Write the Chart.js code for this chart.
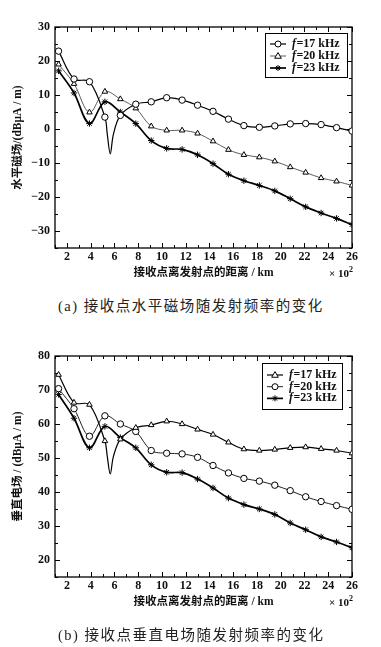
<!DOCTYPE html>
<html>
<head>
<meta charset="utf-8">
<script src="https://cdn.jsdelivr.net/npm/chart.js@4/dist/chart.umd.min.js"></script>
<style>
  body { margin: 0; background: #fff; width: 381px; height: 647px; position: relative; overflow: hidden; }
  canvas { position: absolute; left: 0; }
  .unit { position: absolute; right: 28px; font: bold 11px "Liberation Serif", serif; color: #111; }
  .unit sup { font-size: 8px; }
  .caption { position: absolute; left: 58px; white-space: nowrap; font: 14.5px "Liberation Serif", "Noto Sans CJK SC", serif; letter-spacing: 1.5px; color: #222; line-height: 18px; }
</style>
</head>
<body>
<canvas id="chartA" width="381" height="285" style="top:0"></canvas>
<div class="unit" style="top:265px">× 10<sup>2</sup></div>
<div class="caption" style="top:297px">(a) 接收点水平磁场随发射频率的变化</div>

<canvas id="chartB" width="381" height="285" style="top:329px"></canvas>
<div class="unit" style="top:594px">× 10<sup>2</sup></div>
<div class="caption" style="top:626px">(b) 接收点垂直电场随发射频率的变化</div>

<script>
// distance of receiver from transmitter, x 10^2 km (marker positions)
const distance = [1.3, 2.6, 3.9, 5.2, 6.5, 7.8, 9.1, 10.4, 11.7, 13, 14.3, 15.6, 16.9, 18.2, 19.5, 20.8, 22.1, 23.4, 24.7, 26];
const freqNames = ['=17 kHz', '=20 kHz', '=23 kHz'];

// (a) horizontal magnetic field, dBuA/m
const hField17 = [22.9, 14.7, 13.9, 3.5, 4.0, 7.3, 8.0, 9.2, 8.5, 7.0, 5.2, 2.9, 1.0, 0.5, 0.9, 1.5, 1.6, 1.3, 0.4, -0.6];
const hField20 = [19.0, 13.3, 4.9, 11.0, 8.8, 6.1, 0.8, -0.4, -0.4, -1.3, -3.6, -6.1, -7.6, -8.3, -9.5, -11.2, -12.8, -14.4, -15.4, -16.6];
const hField23 = [17.1, 10.6, 1.6, 8.0, 5.0, 1.6, -3.4, -5.7, -6.0, -7.6, -10.2, -13.3, -15.2, -16.6, -18.2, -20.5, -22.9, -24.7, -26.3, -28.1];
// sharp notch of the 17 kHz curve between markers (no marker there)
const hField17Notch = [[5.4, -1.5], [5.65, -7.3], [5.92, -1.5]];

// (b) vertical electric field, dBuA/m
const eField17 = [74.5, 66.3, 65.7, 55.0, 55.5, 58.9, 59.7, 60.8, 60.0, 58.4, 56.9, 54.6, 52.6, 52.2, 52.5, 53.0, 53.2, 52.7, 52.2, 51.4];
const eField20 = [70.4, 64.5, 56.4, 62.4, 60.0, 57.8, 52.2, 51.4, 51.2, 50.2, 47.8, 45.6, 44.0, 43.2, 42.0, 40.4, 38.6, 37.2, 36.0, 34.9];
const eField23 = [68.7, 61.7, 53.0, 59.3, 56.0, 53.0, 48.0, 45.8, 45.7, 43.8, 41.2, 38.2, 36.3, 35.0, 33.4, 30.9, 28.9, 26.8, 25.3, 23.6];
const eField17Notch = [[5.4, 50.5], [5.65, 45.3], [5.92, 50.5]];

const serif = '"Liberation Serif", "Noto Sans CJK SC", serif';

function series(values, extra) {
  const pts = distance.map((d, i) => ({x: d, y: values[i], mark: true}));
  (extra || []).forEach(p => pts.push({x: p[0], y: p[1], mark: false}));
  return pts.sort((a, b) => a.x - b.x);
}

function line(name, pts, style, width, color) {
  return {
    label: name,
    data: pts,
    pointStyle: style,
    borderColor: color,
    borderWidth: width,
    pointBorderColor: '#000',
    pointBackgroundColor: '#fff',
    pointBorderWidth: 1,
    pointRadius: c => (c.raw && c.raw.mark ? 3.2 : 0),
    tension: 0.35,
    fill: false
  };
}

function drawMark(ctx, style, x, y, r) {
  ctx.beginPath();
  if (style === 'circle') {
    ctx.arc(x, y, r, 0, Math.PI * 2);
    ctx.fill(); ctx.stroke();
  } else if (style === 'triangle') {
    ctx.moveTo(x, y - r * 1.15);
    ctx.lineTo(x + r * 1.1, y + r * 0.75);
    ctx.lineTo(x - r * 1.1, y + r * 0.75);
    ctx.closePath();
    ctx.fill(); ctx.stroke();
  } else {
    for (let k = 0; k < 4; k++) {
      const a = k * Math.PI / 4;
      ctx.moveTo(x - r * Math.cos(a), y - r * Math.sin(a));
      ctx.lineTo(x + r * Math.cos(a), y + r * Math.sin(a));
    }
    ctx.stroke();
  }
}

// plot frame with inward ticks on all four sides
const frameTicks = {
  id: 'frameTicks',
  beforeDatasetsDraw(chart) {
    const {ctx, chartArea: a, scales: {x, y}} = chart;
    ctx.save();
    ctx.strokeStyle = '#000';
    ctx.lineWidth = 1.3;
    ctx.strokeRect(a.left, a.top, a.right - a.left, a.bottom - a.top);
    ctx.lineWidth = 1;
    ctx.beginPath();
    for (let v = Math.ceil(x.min); v <= x.max; v++) {
      const px = Math.round(x.getPixelForValue(v)) + 0.5;
      const len = v % 2 === 0 ? 5 : 3;
      ctx.moveTo(px, a.bottom); ctx.lineTo(px, a.bottom - len);
      ctx.moveTo(px, a.top); ctx.lineTo(px, a.top + len);
    }
    for (let v = Math.ceil(y.min / 5) * 5; v <= y.max; v += 5) {
      const py = Math.round(y.getPixelForValue(v)) + 0.5;
      const len = v % 10 === 0 ? 5 : 3;
      ctx.moveTo(a.left, py); ctx.lineTo(a.left + len, py);
      ctx.moveTo(a.right, py); ctx.lineTo(a.right - len, py);
    }
    ctx.stroke();
    ctx.restore();
  }
};

// boxed legend inside the plot, italic f
const boxLegend = {
  id: 'boxLegend',
  afterDraw(chart, args, o) {
    const {ctx} = chart;
    ctx.save();
    ctx.fillStyle = '#fff';
    ctx.strokeStyle = '#000';
    ctx.lineWidth = 1;
    ctx.fillRect(o.left, o.top, o.width, o.height);
    ctx.strokeRect(o.left + 0.5, o.top + 0.5, o.width, o.height);
    chart.data.datasets.forEach((ds, i) => {
      const cy = o.top + o.firstRow + i * o.rowGap;
      const x0 = o.left + 5, x1 = x0 + 16;
      ctx.strokeStyle = ds.borderColor;
      ctx.lineWidth = ds.borderWidth;
      ctx.beginPath(); ctx.moveTo(x0, cy); ctx.lineTo(x1, cy); ctx.stroke();
      ctx.strokeStyle = '#000';
      ctx.fillStyle = '#fff';
      ctx.lineWidth = 1;
      drawMark(ctx, ds.pointStyle, (x0 + x1) / 2, cy, 3);
      ctx.fillStyle = '#111';
      ctx.textBaseline = 'middle';
      ctx.font = 'bold italic 12px ' + serif;
      ctx.fillText('f', x1 + 6, cy);
      const w = ctx.measureText('f').width;
      ctx.font = 'bold 12px ' + serif;
      ctx.fillText(ds.label, x1 + 6 + w + 0.5, cy);
    });
    ctx.restore();
  }
};

function options(yMin, yMax, yTitle, legendBox) {
  const tickFont = {family: serif, weight: 'bold', size: 12};
  return {
    responsive: false,
    animation: false,
    layout: {padding: {top: 27, right: 29, left: 0, bottom: 0}},
    plugins: {legend: {display: false}, tooltip: {enabled: false}, boxLegend: legendBox},
    scales: {
      x: {
        type: 'linear', min: 1, max: 26,
        grid: {display: false, drawTicks: false},
        border: {display: false},
        ticks: {stepSize: 2, includeBounds: false, padding: 2, color: '#111', font: tickFont, maxRotation: 0, autoSkip: false},
        title: {display: true, text: '接收点离发射点的距离 / km', color: '#111',
                font: {family: serif, weight: 'bold', size: 11.5}, padding: {top: 0, bottom: 5}},
        afterFit: s => { s.height = 37; }
      },
      y: {
        min: yMin, max: yMax,
        grid: {display: false, drawTicks: false},
        border: {display: false},
        ticks: {stepSize: 10, includeBounds: false, padding: 5, color: '#111', font: tickFont,
                callback: v => String(v).replace('-', '\u2212')},
        title: {display: true, text: yTitle, color: '#111',
                font: {family: serif, weight: 'bold', size: 11.5}, padding: {top: 11, bottom: 0}},
        afterFit: s => { s.width = 55; }
      }
    }
  };
}

new Chart(document.getElementById('chartA'), {
  type: 'line',
  data: {
    datasets: [
      line(freqNames[0], series(hField17, hField17Notch), 'circle', 1.2, '#000'),
      line(freqNames[1], series(hField20), 'triangle', 0.8, '#333'),
      line(freqNames[2], series(hField23), 'star', 1.7, '#000')
    ]
  },
  options: options(-35, 30, '水平磁场/(dBμA / m)', {left: 265, top: 33, width: 82, height: 44, firstRow: 11, rowGap: 12}),
  plugins: [frameTicks, boxLegend]
});

new Chart(document.getElementById('chartB'), {
  type: 'line',
  data: {
    datasets: [
      line(freqNames[0], series(eField17, eField17Notch), 'triangle', 1.2, '#000'),
      line(freqNames[1], series(eField20), 'circle', 1.0, '#222'),
      line(freqNames[2], series(eField23), 'star', 1.7, '#000')
    ]
  },
  options: options(15, 80, '垂直电场 / (dBμA / m)', {left: 262, top: 34, width: 80, height: 46, firstRow: 12, rowGap: 11.7}),
  plugins: [frameTicks, boxLegend]
});
</script>
</body>
</html>
